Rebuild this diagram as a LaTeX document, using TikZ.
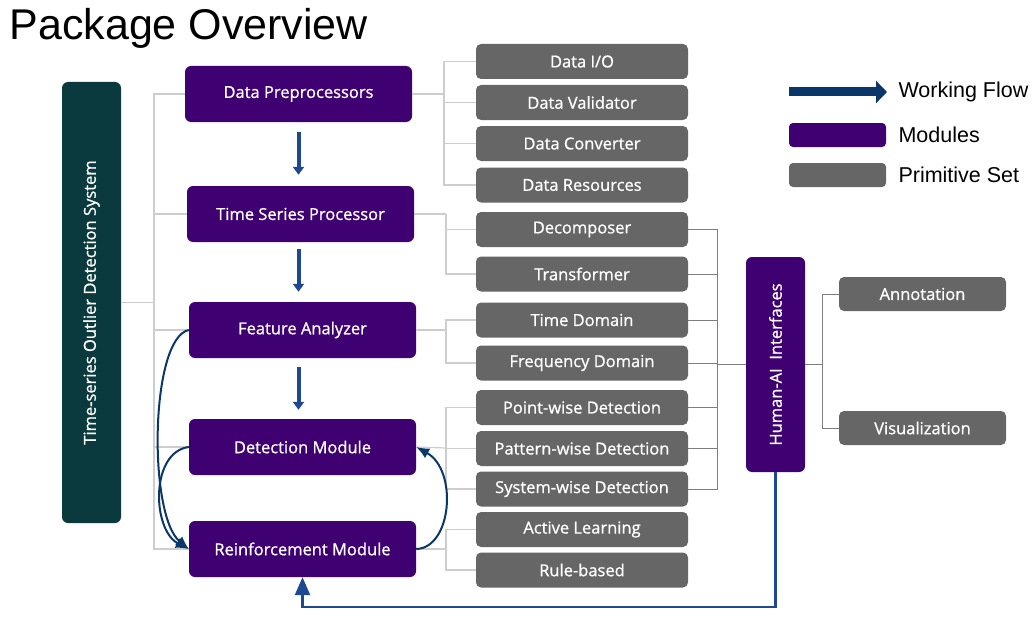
\documentclass[tikz,border=0pt]{standalone}
\usepackage{fontspec}
\setmainfont{Liberation Sans}
\newfontfamily\boxfont{Open Sans}[FakeBold=0.9]
\usepackage{tikz}
\usetikzlibrary{arrows.meta}

\definecolor{modpurple}{RGB}{63,0,114}
\definecolor{primgray}{RGB}{102,102,102}
\definecolor{systeal}{RGB}{11,58,62}
\definecolor{treegray}{RGB}{205,205,205}
\definecolor{linkgray}{RGB}{125,125,125}
\definecolor{flowblue}{RGB}{31,72,146}
\definecolor{loopnavy}{RGB}{10,55,105}

\tikzset{
  boxtext/.style={text=white, inner sep=0pt, font=\boxfont\fontsize{16.5}{19}\selectfont},
  module/.style={boxtext, fill=modpurple, rounded corners=6pt, minimum width=227pt, minimum height=56pt},
  prim/.style={boxtext, fill=primgray, rounded corners=5pt, minimum width=212pt, minimum height=35pt},
  tree/.style={draw=treegray, line width=1.2pt},
  link/.style={draw=linkgray, line width=1pt},
  down/.style={draw=flowblue, line width=4pt, -{Triangle[width=11pt,length=8pt]}},
  loopy/.style={draw=loopnavy, line width=2pt, -{Latex[width=11pt,length=13pt]}},
}

\begin{document}
\begin{tikzpicture}[x=1pt,y=-1pt]
\useasboundingbox (0,0) rectangle (1034,618);

\node[anchor=base west, font=\fontsize{43}{50}\selectfont] (title) at (6,40) {Package Overview};

\node[boxtext, fill=systeal, rounded corners=6pt, rotate=90, minimum width=441pt, minimum height=59pt] (tods) at (91.5,302.5) {Time-series Outlier Detection System};

\node[module] (dp) at (298.5,94) {Data Preprocessors};
\node[module] (tsp) at (300.5,214) {Time Series Processor};
\node[module] (fa) at (302.5,330) {Feature Analyzer};
\node[module] (dm) at (302.5,447) {Detection Module};
\node[module] (rm) at (302.5,549) {Reinforcement Module};

\node[prim] (io) at (582,61.5) {Data I/O};
\node[prim] (val) at (582,102.5) {Data Validator};
\node[prim] (conv) at (582,143.5) {Data Converter};
\node[prim] (res) at (582,185) {Data Resources};
\node[prim] (dec) at (582,229.5) {Decomposer};
\node[prim] (tra) at (582,274) {Transformer};
\node[prim] (tdom) at (582,320) {Time Domain};
\node[prim] (fdom) at (582,363) {Frequency Domain};
\node[prim] (pw) at (582,407.5) {Point-wise Detection};
\node[prim] (patw) at (582,448.5) {Pattern-wise Detection};
\node[prim] (sysw) at (582,489) {System-wise Detection};
\node[prim] (al) at (582,529.5) {Active Learning};
\node[prim] (rb) at (582,570) {Rule-based};

\node[module, rotate=90, minimum width=215pt, minimum height=59pt] (hai) at (775.5,364.5) {Human-AI~ Interfaces};
\node[prim, minimum width=167pt, minimum height=34pt] (ann) at (922.5,294) {Annotation};
\node[prim, minimum width=167pt, minimum height=34pt] (vis) at (922.5,428) {Visualization};

% tree lines
\coordinate (jl) at (154,302.5);
\draw[tree] (tods.south) -- (jl);
\foreach \m in {dp,tsp,fa,dm,rm} \draw[tree] (jl) |- (\m.west);

\coordinate (jdp) at (444,94);
\draw[tree] (dp.east) -- (jdp);
\foreach \p in {io,val,conv,res} \draw[tree] (jdp) |- (\p.west);
\coordinate (jtsp) at (446,214);
\draw[tree] (tsp.east) -- (jtsp);
\foreach \p in {dec,tra} \draw[tree] (jtsp) |- (\p.west);
\coordinate (jfa) at (446,330);
\draw[tree] (fa.east) -- (jfa);
\foreach \p in {tdom,fdom} \draw[tree] (jfa) |- (\p.west);
\coordinate (jdm) at (446,448);
\draw[tree] (dm.east) -- (jdm);
\foreach \p in {pw,patw,sysw} \draw[tree] (jdm) |- (\p.west);
\coordinate (jrm) at (446,549);
\draw[tree] (rm.east) -- (jrm);
\foreach \p in {al,rb} \draw[tree] (jrm) |- (\p.west);

\coordinate (jr) at (717,364.5);
\foreach \p in {dec,tra,tdom,fdom,pw,patw,sysw} \draw[link] (jr) |- (\p.east);
\draw[link] (jr) -- (hai.north);
\coordinate (jh) at (822,364.5);
\draw[link] (hai.south) -- (jh);
\draw[link] (jh) |- (ann.west);
\draw[link] (jh) |- (vis.west);

% working flow
\draw[down, shorten <=10pt, shorten >=11pt] (dp.south) -- (dp.south |- tsp.north);
\draw[down, shorten <=7pt, shorten >=10pt] (tsp.south -| dp.south) -- (dp.south |- fa.north);
\draw[down, shorten <=9pt, shorten >=9pt] (fa.south -| dp.south) -- (dp.south |- dm.north);

\draw[loopy] (fa.west) .. controls (150,338) and (148,515) .. (rm.west);
\draw[loopy] (dm.west) .. controls (150,452) and (152,530) .. (rm.west);
\draw[loopy] (rm.east) .. controls (452,548) and (458,470) .. (dm.east);

\draw[draw=flowblue, line width=2.5pt, -{Triangle[width=15pt,length=18pt]}] (hai.west) |- ([yshift=-30pt]rm.south) -- (rm.south);

% legend
\coordinate (lgA) at (789,92);
\coordinate (lgB) at (887,92);
\draw[draw=loopnavy, line width=9pt, -{Triangle[width=22pt,length=11pt]}] (lgA) -- (lgB);
\node[anchor=west, font=\fontsize{21.5}{25}\selectfont] (lgflow) at (895,92) {Working Flow};
\node[fill=modpurple, rounded corners=4pt, minimum width=97pt, minimum height=24pt, inner sep=0pt] (lgmod) at (837.5,135) {};
\node[anchor=west, font=\fontsize{21.5}{25}\selectfont] (lgmodt) at (895,135) {Modules};
\node[fill=primgray, rounded corners=4pt, minimum width=97pt, minimum height=24pt, inner sep=0pt] (lgprim) at (837.5,175) {};
\node[anchor=west, font=\fontsize{21.5}{25}\selectfont] (lgprimt) at (895,175) {Primitive Set};
\end{tikzpicture}
\end{document}
